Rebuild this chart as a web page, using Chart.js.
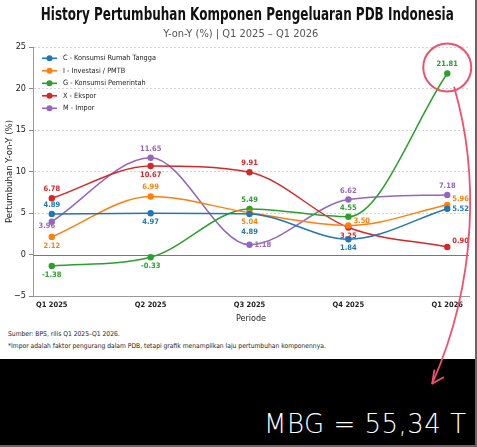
<!DOCTYPE html>
<html>
<head>
<meta charset="utf-8">
<title>History Pertumbuhan Komponen Pengeluaran PDB Indonesia</title>
<script src="https://cdn.jsdelivr.net/npm/chart.js@4.4.1/dist/chart.umd.min.js"></script>
<style>
  html, body { margin: 0; padding: 0; background: #fff; }
  #page { position: relative; width: 477px; height: 447px; overflow: hidden; background: #fff;
          font-family: "DejaVu Sans Condensed", sans-serif; }
  #chartBox { position: absolute; left: 0; top: 0; width: 477px; height: 328px; }
  .note { position: absolute; left: 8px; font-size: 6.7px; line-height: 9px; color: #222; white-space: nowrap; }
  #black { position: absolute; left: 0; top: 359px; width: 477px; height: 88px; background: #000; }
  #mbg { position: absolute; left: 264px; top: 409px; color: #fff; font-family: "DejaVu Sans", sans-serif;
         font-weight: 200; font-size: 26px; line-height: 30px; letter-spacing: 0.5px; white-space: nowrap; }
  #edgeR { position: absolute; left: 475px; top: 0; width: 2px; height: 447px; background: #666; }
  #edgeB { position: absolute; left: 0; top: 445px; width: 477px; height: 2px; background: #666; }
  #overlay { position: absolute; left: 0; top: 0; width: 477px; height: 447px; pointer-events: none; }
</style>
</head>
<body>
<div id="page">
  <div id="chartBox"><canvas id="pdbChart"></canvas></div>
  <div class="note" style="top:330px">Sumber: BPS, rilis Q1 2025–Q1 2026.</div>
  <div class="note" style="top:342px">*Impor adalah faktor pengurang dalam PDB, tetapi grafik menampilkan laju pertumbuhan komponennya.</div>
  <div id="black"></div>
  <div id="mbg">MBG = 55,34 T</div>
  <div id="edgeR"></div>
  <div id="edgeB"></div>
  <svg id="overlay" xmlns="http://www.w3.org/2000/svg" width="477" height="447">
    <circle id="ring" cx="0" cy="0" r="24" fill="none" stroke="#f0506c" stroke-width="2"/>
    <path id="arrow" d="" fill="none" stroke="#f0506c" stroke-width="1.8" stroke-linecap="round"/>
    <path id="arrowHead" d="" fill="none" stroke="#f0506c" stroke-width="1.8" stroke-linecap="round" stroke-linejoin="round"/>
  </svg>
</div>

<script>
// data yang dibaca dari grafik
const periods = ['Q1 2025', 'Q2 2025', 'Q3 2025', 'Q4 2025', 'Q1 2026'];
const konsumsiRT = [4.89, 4.97, 4.89, 1.84, 5.52];
const investasi = [2.12, 6.99, 5.04, 3.50, 5.96];
const konsumsiPemerintah = [-1.38, -0.33, 5.49, 4.55, 21.81];
const ekspor = [6.78, 10.67, 9.91, 3.25, 0.90];
const impor = [3.96, 11.65, 1.18, 6.62, 7.18];
const yTicks = [-5, 0, 5, 10, 15, 20, 25];

const titleText = 'History Pertumbuhan Komponen Pengeluaran PDB Indonesia';
const subtitleText = 'Y-on-Y (%) | Q1 2025 – Q1 2026';

const family = '"DejaVu Sans Condensed", sans-serif';
Chart.defaults.font.family = family;

// posisi label tiap titik (di atas / bawah / kanan)
const series = [
  { label: 'C - Konsumsi Rumah Tangga', data: konsumsiRT, color: '#1f77b4', pos: ['above', 'below', 'below2', 'below', 'right'] },
  { label: 'I - Investasi / PMTB', data: investasi, color: '#ff7f0e', pos: ['below', 'above', 'below', 'rightHi', 'rightUp'] },
  { label: 'G - Konsumsi Pemerintah', data: konsumsiPemerintah, color: '#2ca02c', pos: ['below', 'below', 'above', 'above', 'above'] },
  { label: 'X - Ekspor', data: ekspor, color: '#d62728', pos: ['above', 'below', 'above', 'below', 'rightUp'] },
  { label: 'M - Impor', data: impor, color: '#9467bd', pos: ['left', 'above', 'right', 'above', 'above'] }
];

const offsets = {
  above: [0, -9, 'center'],
  below: [0, 9, 'center'],
  below2: [0, 18, 'center'],
  right: [5, 0, 'left'],
  rightHi: [5, -4, 'left'],
  rightUp: [5, -6, 'left'],
  left: [-5, 4, 'center']
};

// judul (dipadatkan sedikit supaya lebarnya sama) dan subjudul
const header = {
  id: 'header',
  afterDraw(chart) {
    const ctx = chart.ctx;
    ctx.save();
    ctx.textAlign = 'center';
    ctx.textBaseline = 'alphabetic';
    ctx.fillStyle = '#111';
    ctx.font = 'bold 17px ' + family;
    const w = ctx.measureText(titleText).width;
    ctx.translate(247.3, 20.3);
    ctx.scale(413 / w, 1);
    ctx.fillText(titleText, 0, 0);
    ctx.setTransform(chart.currentDevicePixelRatio, 0, 0, chart.currentDevicePixelRatio, 0, 0);
    ctx.fillStyle = '#555';
    ctx.font = '11px ' + family;
    ctx.fillText(subtitleText, 240.8, 36.5);
    ctx.restore();
  }
};

// garis nol
const zeroLine = {
  id: 'zeroLine',
  beforeDatasetsDraw(chart) {
    const { ctx, chartArea, scales } = chart;
    const y = Math.round(scales.y.getPixelForValue(0)) + 0.5;
    ctx.save();
    ctx.strokeStyle = '#777';
    ctx.lineWidth = 1;
    ctx.beginPath();
    ctx.moveTo(chartArea.left, y);
    ctx.lineTo(chartArea.right, y);
    ctx.stroke();
    ctx.restore();
  }
};

// label angka di tiap titik
const pointLabels = {
  id: 'pointLabels',
  afterDatasetsDraw(chart) {
    const ctx = chart.ctx;
    ctx.save();
    ctx.font = 'bold 7.5px ' + family;
    ctx.textBaseline = 'middle';
    chart.data.datasets.forEach((ds, di) => {
      const meta = chart.getDatasetMeta(di);
      meta.data.forEach((pt, i) => {
        const o = offsets[ds.labelPos[i]];
        ctx.fillStyle = ds.borderColor;
        ctx.textAlign = o[2];
        ctx.fillText(ds.data[i].y.toFixed(2), pt.x + o[0], pt.y + o[1]);
      });
    });
    ctx.restore();
  }
};

// legenda di dalam area grafik
const legendBox = {
  id: 'legendBox',
  afterDraw(chart) {
    const { ctx, chartArea } = chart;
    const x0 = chartArea.left + 9;
    const y0 = chartArea.top + 11.3;
    ctx.save();
    ctx.font = '7.3px ' + family;
    ctx.textBaseline = 'middle';
    ctx.textAlign = 'left';
    chart.data.datasets.forEach((ds, i) => {
      const y = y0 + i * 12.5;
      ctx.strokeStyle = ds.borderColor;
      ctx.lineWidth = 1.6;
      ctx.beginPath();
      ctx.moveTo(x0, y);
      ctx.lineTo(x0 + 15, y);
      ctx.stroke();
      ctx.fillStyle = ds.borderColor;
      ctx.beginPath();
      ctx.arc(x0 + 7.5, y, 3, 0, Math.PI * 2);
      ctx.fill();
      ctx.fillStyle = '#222';
      ctx.fillText(ds.label, x0 + 21, y);
    });
    ctx.restore();
  }
};

// lingkaran dan panah merah di titik terakhir G
const annotation = {
  id: 'annotation',
  afterRender(chart) {
    const meta = chart.getDatasetMeta(2);
    const pt = meta.data[meta.data.length - 1];
    const px = pt.x, py = pt.y;
    const ring = document.getElementById('ring');
    ring.setAttribute('cx', px);
    ring.setAttribute('cy', py - 6);
    document.getElementById('arrow').setAttribute('d',
      `M ${px + 7} ${py + 14} C ${px + 31} ${py + 96}, ${px + 31} ${py + 206}, ${px - 15} ${py + 310}`);
    document.getElementById('arrowHead').setAttribute('d',
      `M ${px - 13} ${py + 297} L ${px - 15} ${py + 310} L ${px - 4} ${py + 304}`);
  }
};

const ctx = document.getElementById('pdbChart').getContext('2d');
const pdbChart = new Chart(ctx, {
  type: 'line',
  data: {
    datasets: series.map(s => ({
      label: s.label,
      data: s.data.map((v, i) => ({ x: i, y: v })),
      borderColor: s.color,
      backgroundColor: s.color,
      pointBackgroundColor: s.color,
      pointBorderColor: s.color,
      pointRadius: 3.2,
      pointBorderWidth: 0,
      borderWidth: 1.5,
      cubicInterpolationMode: 'monotone',
      labelPos: s.pos
    }))
  },
  options: {
    responsive: true,
    maintainAspectRatio: false,
    animation: false,
    layout: { padding: { left: 0, right: 8, top: 47, bottom: 0 } },
    plugins: {
      legend: { display: false },
      tooltip: { enabled: false },
      title: { display: false },
      subtitle: { display: false }
    },
    scales: {
      x: {
        type: 'linear',
        min: -0.19,
        max: 4.22,
        afterBuildTicks: s => { s.ticks = periods.map((p, i) => ({ value: i })); },
        afterFit: s => { s.height = 32; },
        ticks: {
          callback: v => periods[v],
          color: '#222',
          font: { size: 7.5, weight: 'bold' },
          padding: 5,
          maxRotation: 0,
          autoSkip: false
        },
        grid: { display: false, drawTicks: false },
        border: { display: true, color: '#999', width: 1 },
        title: { display: true, text: 'Periode', color: '#222', font: { size: 9 }, padding: { top: 0, bottom: 3.5 } }
      },
      y: {
        min: -5,
        max: 25,
        afterBuildTicks: s => { s.ticks = yTicks.map(v => ({ value: v })); },
        afterFit: s => { s.width = 33; },
        ticks: {
          callback: v => v < 0 ? '\u2212' + Math.abs(v) : String(v),
          color: '#222',
          font: { size: 9 },
          padding: 3
        },
        grid: {
          color: c => (c.tick && (c.tick.value === 0 || c.tick.value === -5)) ? 'rgba(0,0,0,0)' : '#d4d4d4',
          tickColor: '#888',
          tickLength: 4,
          lineWidth: 1
        },
        border: { display: true, color: '#999', width: 1, dash: [2, 2] },
        title: { display: true, text: 'Pertumbuhan Y-on-Y (%)', color: '#222', font: { size: 9.5 }, padding: { top: 4, bottom: 0 } }
      }
    }
  },
  plugins: [header, zeroLine, pointLabels, legendBox, annotation]
});
</script>
</body>
</html>
